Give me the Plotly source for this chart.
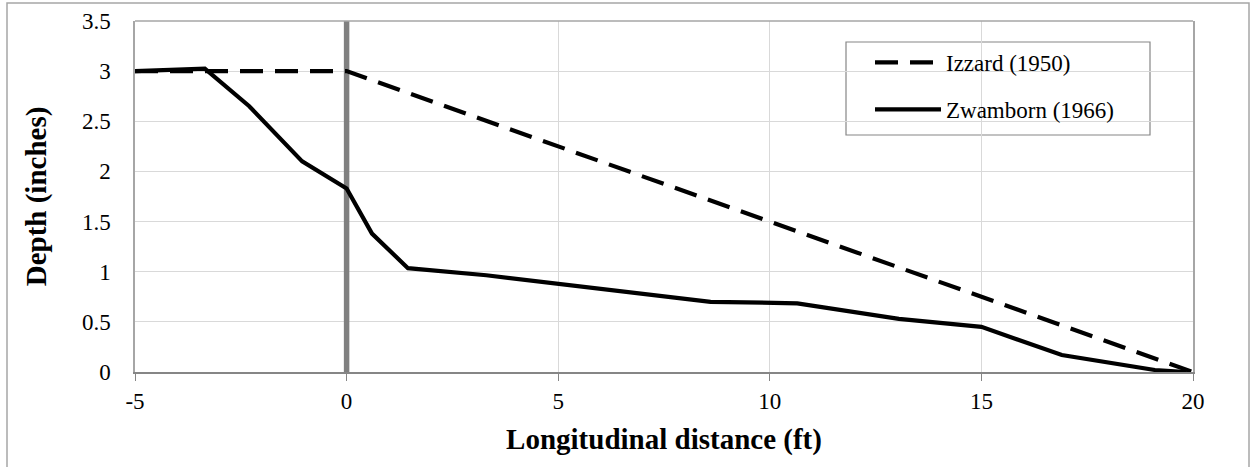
import plotly.graph_objects as go

# Longitudinal profile of the flow depth along the channel
izzard_x = [-5, 0, 20]
izzard_y = [3.0, 3.0, 0.0]

zwamborn_x = [-5, -3.35, -2.3, -1.05, 0, 0.6, 1.45, 3.3, 8.6, 10.65, 13.05, 15.0, 16.9, 19.1, 19.85]
zwamborn_y = [3.0, 3.025, 2.65, 2.10, 1.83, 1.38, 1.035, 0.965, 0.70, 0.685, 0.53, 0.45, 0.17, 0.02, 0.0]

x_ticks = [-5, 0, 5, 10, 15, 20]
y_ticks = [0, 0.5, 1, 1.5, 2, 2.5, 3, 3.5]

SERIF = "Liberation Serif"

fig = go.Figure()
fig.add_trace(go.Scatter(
    x=izzard_x, y=izzard_y, mode="lines", name="Izzard (1950)",
    legendgroup="a",
    line=dict(color="black", width=4.2, dash="23px,12px"),
))
fig.add_trace(go.Scatter(
    x=zwamborn_x, y=zwamborn_y, mode="lines", name="Zwamborn (1966)",
    legendgroup="b",
    line=dict(color="black", width=4.2),
))

W, H = 1250, 468
L, R, T, B = 135, 57, 21, 96


def px(xpix):
    return (xpix - L) / (W - L - R)


def py(ypix):
    return (H - B - ypix) / (H - T - B)


shapes = [
    # vertical reference line at x = 0
    dict(type="line", xref="x", yref="y", x0=0, x1=0, y0=0, y1=3.5,
         line=dict(color="#808080", width=5.5), layer="between"),
    # top edge of plot area
    dict(type="line", xref="paper", yref="paper", x0=0, x1=1, y0=1, y1=1,
         line=dict(color="#a6a6a6", width=1.5)),
    # legend frame
    dict(type="rect", xref="paper", yref="paper",
         x0=px(846), x1=px(1150), y0=py(135), y1=py(42),
         line=dict(color="#868686", width=1.2), fillcolor="white", layer="between"),
    # outer chart frame
    dict(type="path", xref="paper", yref="paper",
         path=f"M {px(7)} {py(467)} L {px(7)} {py(3)} L {px(1249)} {py(3)} L {px(1249)} {py(467)}",
         line=dict(color="#a6a6a6", width=1.5)),
]

fig.update_layout(
    width=W, height=H,
    margin=dict(l=L, r=R, t=T, b=B, autoexpand=False),
    paper_bgcolor="white", plot_bgcolor="white",
    font=dict(family=SERIF, size=23, color="black"),
    showlegend=True,
    legend=dict(
        x=px(870), y=py(41), xanchor="left", yanchor="top",
        bgcolor="rgba(0,0,0,0)", borderwidth=0,
        font=dict(family=SERIF, size=23, color="black"),
        itemwidth=66, tracegroupgap=14,
    ),
    shapes=shapes,
    xaxis=dict(
        range=[-5, 20], tickvals=x_ticks, ticktext=[str(v) for v in x_ticks],
        showgrid=True, gridcolor="#d9d9d9", gridwidth=1,
        zeroline=False,
        showline=True, linecolor="#868686", linewidth=2,
        ticks="outside", ticklen=7, tickcolor="#868686", tickwidth=1,
        tickfont=dict(family=SERIF, size=23),
        title=dict(text="<b>Longitudinal distance (ft)</b>", standoff=16,
                   font=dict(family=SERIF, size=29)),
    ),
    yaxis=dict(
        range=[0, 3.5], tickvals=y_ticks,
        ticktext=["0", "0.5", "1", "1.5", "2", "2.5", "3", "3.5"],
        showgrid=True, gridcolor="#d9d9d9", gridwidth=1,
        zeroline=False,
        showline=True, linecolor="#a6a6a6", linewidth=1.5, mirror=True,
        ticks="", ticklabelstandoff=18,
        tickfont=dict(family=SERIF, size=23),
        title=dict(text="<b>Depth (inches)</b>", standoff=27,
                   font=dict(family=SERIF, size=29)),
    ),
)

fig.write_html("out.html")
